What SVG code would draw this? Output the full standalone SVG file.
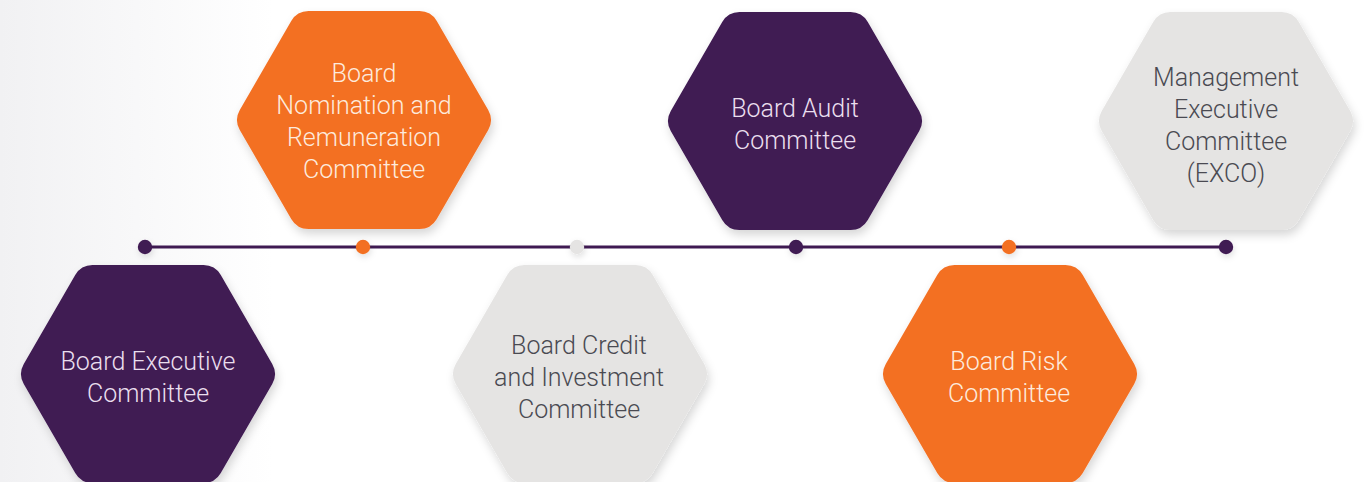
<svg xmlns="http://www.w3.org/2000/svg" width="1366" height="482" viewBox="0 0 1366 482">
  <defs>
    <linearGradient id="bg" x1="0" y1="0" x2="1" y2="0">
      <stop offset="0" stop-color="#f1f1f3"/>
      <stop offset="0.2" stop-color="#ffffff"/>
      <stop offset="1" stop-color="#ffffff"/>
    </linearGradient>
    <filter id="shadow" x="-20%" y="-20%" width="140%" height="140%">
      <feDropShadow dx="2" dy="5" stdDeviation="5" flood-color="#000000" flood-opacity="0.16"/>
    </filter>
    <filter id="dotshadow" x="-200%" y="-200%" width="500%" height="500%">
      <feDropShadow dx="1" dy="3" stdDeviation="3" flood-color="#000000" flood-opacity="0.12"/>
    </filter>
    <path id="hex" d="M -55.45,-109 L 55.45,-109 A 20 20 0 0 1 72.78,-99 L 124.22,-10 A 20 20 0 0 1 124.22,10 L 72.78,99 A 20 20 0 0 1 55.45,109 L -55.45,109 A 20 20 0 0 1 -72.78,99 L -124.22,10 A 20 20 0 0 1 -124.22,-10 L -72.78,-99 A 20 20 0 0 1 -55.45,-109 Z"/>
  </defs>
  <style>
    .purple { fill: #3f1a52; }
    .orange { fill: #f37023; }
    .grey { fill: #e5e4e3; }
    .hexshape { filter: url(#shadow); }
    text { font-family: Roboto, "Liberation Sans", sans-serif; font-weight: 300; font-size: 25px; text-anchor: middle; }
    .t-orange { fill: #fdeadc; }
    .t-purple { fill: #eadfee; }
    .t-grey { fill: #4a4a52; }
    .line { stroke: #3f1a52; stroke-width: 3; fill: none; }
    .dot { filter: url(#dotshadow); }
  </style>
  <rect x="0" y="0" width="1366" height="482" fill="url(#bg)"/>

  <g id="connectors">
    <line class="line" x1="145" y1="247" x2="1226" y2="247"/>
    <circle class="dot purple" cx="145" cy="247" r="7.2"/>
    <circle class="dot orange" cx="363" cy="247" r="7.2"/>
    <circle class="dot grey" cx="577" cy="247" r="7.2"/>
    <circle class="dot purple" cx="796" cy="247" r="7.2"/>
    <circle class="dot orange" cx="1009" cy="247" r="7.2"/>
    <circle class="dot purple" cx="1226" cy="247" r="7.2"/>
  </g>

  <g id="node-executive">
    <use href="#hex" class="hexshape purple" x="148" y="374"/>
    <text class="t-purple" x="148" y="370">Board Executive</text>
    <text class="t-purple" x="148" y="402">Committee</text>
  </g>

  <g id="node-nomination">
    <use href="#hex" class="hexshape orange" x="364" y="120"/>
    <text class="t-orange" x="364" y="82">Board</text>
    <text class="t-orange" x="364" y="114">Nomination and</text>
    <text class="t-orange" x="364" y="146">Remuneration</text>
    <text class="t-orange" x="364" y="178">Committee</text>
  </g>

  <g id="node-credit">
    <use href="#hex" class="hexshape grey" x="580" y="374"/>
    <text class="t-grey" x="579" y="354">Board Credit</text>
    <text class="t-grey" x="579" y="386">and Investment</text>
    <text class="t-grey" x="579" y="418">Committee</text>
  </g>

  <g id="node-audit">
    <use href="#hex" class="hexshape purple" x="795" y="121"/>
    <text class="t-purple" x="795" y="117">Board Audit</text>
    <text class="t-purple" x="795" y="149">Committee</text>
  </g>

  <g id="node-risk">
    <use href="#hex" class="hexshape orange" x="1010" y="374"/>
    <text class="t-orange" x="1009" y="370">Board Risk</text>
    <text class="t-orange" x="1009" y="402">Committee</text>
  </g>

  <g id="node-exco">
    <use href="#hex" class="hexshape grey" x="1226" y="121"/>
    <text class="t-grey" x="1226" y="86">Management</text>
    <text class="t-grey" x="1226" y="118">Executive</text>
    <text class="t-grey" x="1226" y="150">Committee</text>
    <text class="t-grey" x="1226" y="182">(EXCO)</text>
  </g>
</svg>
